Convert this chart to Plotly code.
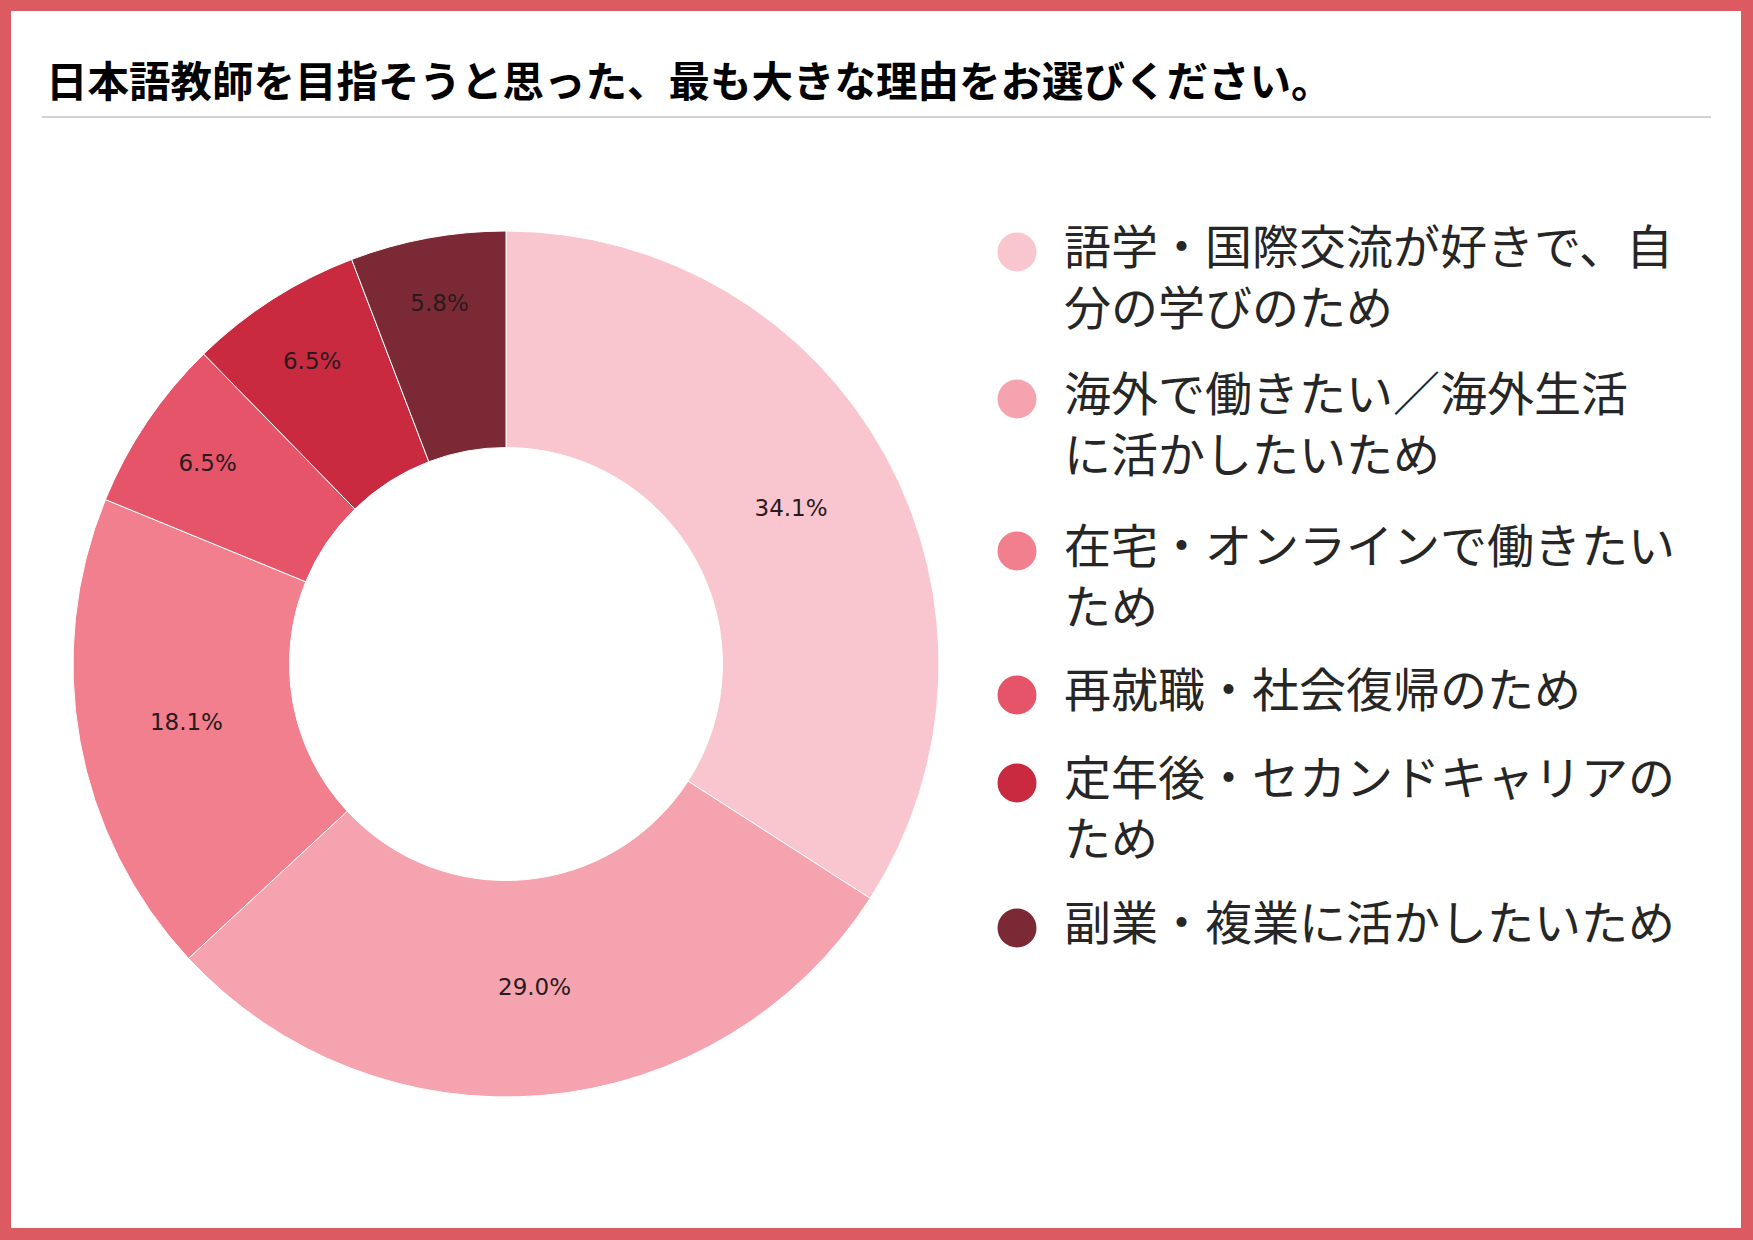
import plotly.graph_objects as go

# アンケート結果(%)
labels = [
    '語学・国際交流が好きで、自分の学びのため',
    '海外で働きたい／海外生活に活かしたいため',
    '在宅・オンラインで働きたいため',
    '再就職・社会復帰のため',
    '定年後・セカンドキャリアのため',
    '副業・複業に活かしたいため',
]
legend_text = [
    '語学・国際交流が好きで、自<br>分の学びのため',
    '海外で働きたい／海外生活<br>に活かしたいため',
    '在宅・オンラインで働きたい<br>ため',
    '再就職・社会復帰のため',
    '定年後・セカンドキャリアの<br>ため',
    '副業・複業に活かしたいため',
]
values = [34.1, 29.0, 18.1, 6.5, 6.5, 5.8]
colors = ['#f9c6cf', '#f5a4af', '#f17f8d', '#e6546a', '#c92a40', '#7b2934']
title = '日本語教師を目指そうと思った、最も大きな理由をお選びください。'

W, H = 1753, 1240

def px_x(v):
    return v / W

def px_y(v):
    return 1 - v / H

fig = go.Figure(go.Pie(
    labels=labels,
    values=values,
    hole=0.5,
    sort=False,
    direction='clockwise',
    rotation=0,
    marker=dict(colors=colors, line=dict(color='white', width=1)),
    texttemplate='%{value:.1f}%',
    textposition='inside',
    insidetextorientation='horizontal',
    textfont=dict(family='DejaVu Sans', size=23, color='#2a1a1e'),
    showlegend=False,
    hoverinfo='label+percent',
    # 中心 (506, 664)px、半径 433px
    domain=dict(x=[px_x(506 - 433), px_x(506 + 433)], y=[px_y(664 + 433), px_y(664 - 433)]),
))

shapes = [
    # 白いカード(外側は赤い枠)
    dict(type='rect', xref='paper', yref='paper', layer='below',
         x0=px_x(11), x1=px_x(W - 12), y0=px_y(H - 12), y1=px_y(11),
         fillcolor='white', line=dict(width=0)),
    # タイトル下の線
    dict(type='line', xref='paper', yref='paper',
         x0=px_x(42), x1=px_x(1711), y0=px_y(117), y1=px_y(117),
         line=dict(color='#c3c3c3', width=1.5)),
]

annotations = [
    dict(text='<b>' + title + '</b>', xref='paper', yref='paper',
         x=px_x(44), y=px_y(79), xanchor='left', yanchor='middle', showarrow=False,
         font=dict(family='Noto Sans CJK JP', size=41.5, color='#000000')),
]

# 凡例(丸マーカー+テキスト)
legend_y = [252, 399, 551, 695, 783, 928]
line_h = 61
r = 19.5
for txt, col, yy in zip(legend_text, colors, legend_y):
    shapes.append(dict(type='circle', xref='paper', yref='paper',
                       x0=px_x(1017 - r), x1=px_x(1017 + r),
                       y0=px_y(yy + r), y1=px_y(yy - r),
                       fillcolor=col, line=dict(width=0)))
    n = txt.count('<br>') + 1
    annotations.append(dict(text=txt, xref='paper', yref='paper',
                            x=px_x(1062), y=px_y(yy - 9 + (n - 1) * line_h / 2),
                            xanchor='left', yanchor='middle', align='left', showarrow=False,
                            font=dict(family='Noto Sans CJK JP', size=47, color='#262626')))

fig.update_layout(
    width=W, height=H,
    margin=dict(l=0, r=0, t=0, b=0),
    paper_bgcolor='#dc5a62',
    plot_bgcolor='white',
    shapes=shapes,
    annotations=annotations,
)

# ページ余白を消して枠を画面の端に合わせる
fig.write_html('out.html', config={'displayModeBar': False},
               post_script="document.body.style.margin='0';")
